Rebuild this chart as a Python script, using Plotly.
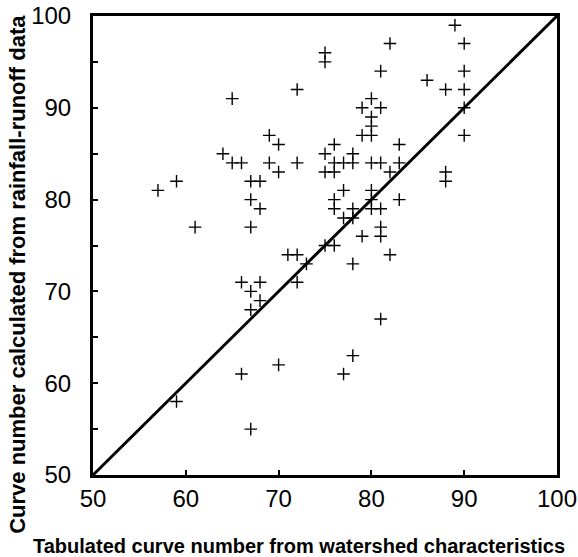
import plotly.graph_objects as go

# Tabulated CN (x) vs CN from rainfall-runoff data (y)
tabulated_cn = [
    75, 75, 72, 65, 69, 70, 64, 65, 66, 69, 70, 72, 75, 75, 67, 68, 59, 57, 67,
    89, 90, 82, 81, 90, 86, 88, 90, 80, 79, 81, 80, 80, 90, 79, 80, 90, 76, 83,
    78, 76, 77, 78, 76, 80, 81, 83, 82, 88, 88, 77, 80, 76, 83, 80,
    68, 61, 67, 71, 72, 73, 75, 66, 68, 72, 67, 68, 67, 70, 66,
    76, 78, 80, 81, 77, 78, 81, 81, 79, 76, 82, 78, 81, 78, 77,
    59, 67,
]
observed_cn = [
    96, 95, 92, 91, 87, 86, 85, 84, 84, 84, 83, 84, 85, 83, 82, 82, 82, 81, 80,
    99, 97, 97, 94, 94, 93, 92, 92, 91, 90, 90, 89, 88, 90, 87, 87, 87, 86, 86,
    85, 84, 84, 84, 83, 84, 84, 84, 83, 83, 82, 81, 81, 80, 80, 80,
    79, 77, 77, 74, 74, 73, 75, 71, 71, 71, 70, 69, 68, 62, 61,
    79, 79, 79, 79, 78, 78, 77, 76, 76, 75, 74, 73, 67, 63, 61,
    58, 55,
]

axis_range = [50, 100]
line_ends = [50, 100]
tick_vals = [50, 60, 70, 80, 90, 100]
tick_text = ["50", "60", "70", "80", "90", "100"]
x_title = "Tabulated curve number from watershed characteristics"
y_title = "Curve number calculated from rainfall-runoff data"

fig = go.Figure()
fig.add_trace(go.Scatter(
    x=line_ends, y=line_ends, mode="lines",
    line=dict(color="black", width=3), hoverinfo="skip", showlegend=False,
))
fig.add_trace(go.Scatter(
    x=tabulated_cn, y=observed_cn, mode="markers",
    marker=dict(symbol="cross-thin", size=9, color="black",
                line=dict(color="black", width=1.4)),
    showlegend=False,
))

font_family = "Liberation Sans, Arial, sans-serif"

fig.update_layout(
    width=578, height=557,
    margin=dict(l=93, r=21, t=16, b=82),
    paper_bgcolor="white", plot_bgcolor="white",
    font=dict(family=font_family, color="black"),
    annotations=[
        dict(text="<b>" + x_title + "</b>", xref="paper", yref="paper",
             x=0.445, y=-0.155, xanchor="center", yanchor="middle",
             showarrow=False, font=dict(size=20, family=font_family)),
        dict(text="<b>" + y_title + "</b>", xref="paper", yref="paper",
             x=-0.162, y=0.438, xanchor="center", yanchor="middle",
             textangle=-90, showarrow=False,
             font=dict(size=22, family=font_family)),
    ],
)
fig.update_xaxes(
    range=axis_range, tickvals=tick_vals, ticktext=tick_text,
    ticks="inside", ticklen=5, tickwidth=1.5, tickcolor="black",
    showline=True, linecolor="black", linewidth=3, mirror=True,
    showgrid=False, zeroline=False, automargin=False,
    tickfont=dict(size=24, family=font_family),
    ticklabelstandoff=0,
)
fig.update_yaxes(
    range=axis_range, tickvals=tick_vals, ticktext=tick_text,
    ticks="inside", ticklen=5, tickwidth=1.5, tickcolor="black",
    minor=dict(dtick=5, ticks="inside", ticklen=5, tickwidth=1.5, tickcolor="black"),
    showline=True, linecolor="black", linewidth=3, mirror=True,
    showgrid=False, zeroline=False, automargin=False,
    tickfont=dict(size=24, family=font_family),
    ticklabelstandoff=14,
)

fig.write_html("out.html")
